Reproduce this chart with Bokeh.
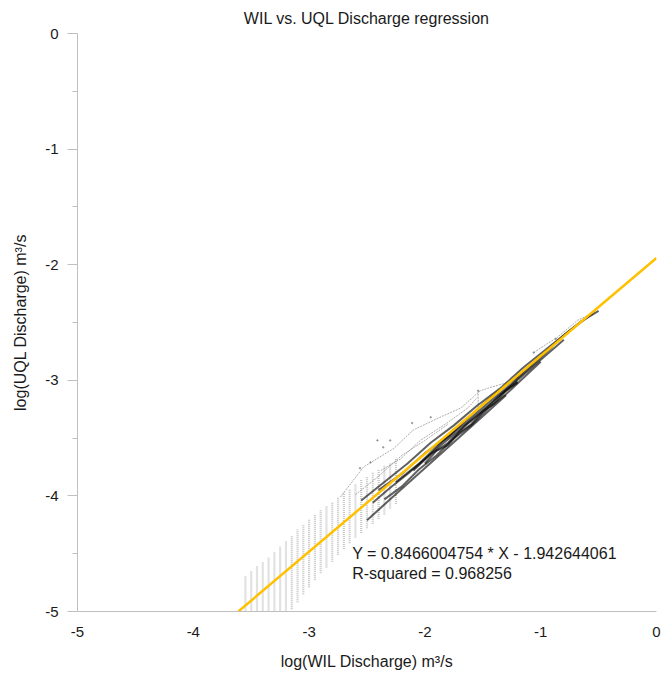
from bokeh.plotting import figure
from bokeh.models import Range1d, FixedTicker, Label
from bokeh.embed import file_html
from bokeh.resources import INLINE

# ---- regression result ----
slope = 0.8466004754
intercept = -1.942644061
r_squared = 0.968256

# ---- axes ----
x_ticks = [-5, -4, -3, -2, -1, 0]
x_tick_labels = ["-5", "-4", "-3", "-2", "-1", "0"]
y_ticks = [-5, -4, -3, -2, -1, 0]
y_tick_labels = ["-5", "-4", "-3", "-2", "-1", "0"]
y_minor_ticks = [-4.5, -3.5, -2.5, -1.5, -0.5]

# ---- low-flow (quantized) readings: columns of log(WIL) with UQL range ----
col_x = [-3.55, -3.50, -3.45, -3.40, -3.35, -3.30, -3.25, -3.20, -3.15, -3.10,
         -3.05, -3.00, -2.95, -2.90, -2.85, -2.80, -2.75, -2.70, -2.65, -2.60,
         -2.55, -2.50, -2.45, -2.40, -2.35, -2.30, -2.25]
col_y_high = [-4.69, -4.65, -4.61, -4.57, -4.53, -4.49, -4.44, -4.39, -4.34, -4.29,
              -4.25, -4.20, -4.16, -4.12, -4.09, -4.05, -4.01, -3.97, -3.94, -3.90,
              -3.86, -3.83, -3.80, -3.77, -3.74, -3.71, -3.67]
col_y_low = [-5.00, -5.00, -5.00, -5.00, -5.00, -5.00, -5.00, -5.00, -4.98, -4.92,
             -4.85, -4.79, -4.73, -4.67, -4.62, -4.57, -4.51, -4.46, -4.41, -4.36,
             -4.32, -4.28, -4.24, -4.20, -4.16, -4.11, -4.07]

# ---- dense (dark) traces of paired readings ----
s1_x = [-2.45, -2.3, -2.15, -2.0, -1.85, -1.7, -1.55, -1.4, -1.25, -1.1, -0.95, -0.8]
s1_y = [-4.06, -3.93, -3.81, -3.68, -3.55, -3.43, -3.30, -3.17, -3.04, -2.91, -2.78, -2.65]
s2_x = [-2.35, -2.2, -2.05, -1.9, -1.75, -1.6, -1.45, -1.3, -1.15, -1.0]
s2_y = [-4.03, -3.92, -3.77, -3.65, -3.50, -3.39, -3.24, -3.12, -2.98, -2.84]
s3_x = [-2.5, -2.3, -2.1, -1.9, -1.7, -1.5, -1.3]
s3_y = [-4.21, -4.03, -3.85, -3.67, -3.49, -3.31, -3.13]
s4_x = [-2.4, -2.2, -2.0, -1.8, -1.6, -1.4, -1.2, -1.0, -0.8, -0.65, -0.5]
s4_y = [-3.95, -3.81, -3.63, -3.49, -3.30, -3.12, -2.97, -2.79, -2.61, -2.49, -2.40]
s5_x = [-2.55, -2.35, -2.15, -1.95, -1.75, -1.55, -1.35, -1.15, -0.95, -0.75, -0.55]
s5_y = [-4.04, -3.88, -3.72, -3.54, -3.39, -3.22, -3.07, -2.89, -2.73, -2.57, -2.42]
s6_x = [-2.1, -1.95, -1.8, -1.65, -1.5, -1.35, -1.2]
s6_y = [-3.78, -3.64, -3.54, -3.39, -3.27, -3.13, -3.01]
s7_x = [-2.25, -2.05, -1.85, -1.65, -1.45, -1.25, -1.05, -0.9]
s7_y = [-3.88, -3.72, -3.53, -3.37, -3.19, -3.03, -2.85, -2.71]
s8_x = [-2.0, -1.9, -1.8, -1.7, -1.6, -1.5, -1.4, -1.3, -1.2]
s8_y = [-3.72, -3.61, -3.56, -3.45, -3.38, -3.27, -3.20, -3.09, -3.02]

# ---- sparser (grey) traces above the fit ----
ua_x = [-2.73, -2.53, -2.27, -2.10, -1.87, -1.69, -1.52, -1.43, -1.29]
ua_y = [-4.01, -3.75, -3.59, -3.43, -3.32, -3.24, -3.09, -3.06, -3.02]
ub_x = [-2.38, -2.21, -2.04, -1.81, -1.63, -1.55]
ub_y = [-3.78, -3.68, -3.52, -3.37, -3.24, -3.15]
uc_x = [-1.54, -1.54]
uc_y = [-3.09, -3.26]
ud_x = [-1.06, -0.94, -0.87, -0.68, -0.53]
ud_y = [-2.76, -2.68, -2.64, -2.48, -2.41]
ue_x = [-2.6, -2.4, -2.2, -2.0, -1.8]
ue_y = [-3.99, -3.83, -3.65, -3.52, -3.38]

# isolated readings
dot_x = [-2.41, -2.30, -2.36, -2.11, -1.95, -2.56, -2.47, -1.06, -0.87, -1.54]
dot_y = [-3.52, -3.52, -3.58, -3.37, -3.32, -3.76, -3.71, -2.76, -2.64, -3.09]

FONT = "Liberation Sans"
TXT = "#1a1a1a"
AX = "#bfbfbf"

p = figure(width=661, height=676, output_backend="svg", toolbar_location=None,
           x_range=Range1d(-5, 0), y_range=Range1d(-5, 0),
           min_border_left=77, min_border_right=5, min_border_top=33,
           min_border_bottom=65)
p.title.text = "WIL vs. UQL Discharge regression"
p.title.align = "center"
p.title.vertical_align = "top"
p.title.text_font = FONT
p.title.text_font_size = "16px"
p.title.text_font_style = "normal"
p.title.text_color = TXT
p.title.standoff = 10
p.xgrid.visible = False
p.ygrid.visible = False
p.outline_line_color = None
p.background_fill_color = "white"
p.border_fill_color = "white"

# x axis
p.xaxis.ticker = FixedTicker(ticks=x_ticks)
p.xaxis.major_label_overrides = {t: l for t, l in zip(x_ticks, x_tick_labels)}
p.xaxis.major_tick_out = 0
p.xaxis.major_tick_in = 0
p.xaxis.minor_tick_out = 0
p.xaxis.minor_tick_in = 0
p.xaxis.major_label_standoff = 15
p.xaxis.axis_label = "log(WIL Discharge) m\u00b3/s"
p.xaxis.axis_label_standoff = 13

# y axis
p.yaxis.ticker = FixedTicker(ticks=y_ticks, minor_ticks=y_minor_ticks)
p.yaxis.major_label_overrides = {t: l for t, l in zip(y_ticks, y_tick_labels)}
p.yaxis.major_tick_out = 10
p.yaxis.major_tick_in = 0
p.yaxis.minor_tick_out = 5
p.yaxis.minor_tick_in = 0
p.yaxis.major_label_standoff = 9
p.yaxis.axis_label = "log(UQL Discharge) m\u00b3/s"
p.yaxis.axis_label_standoff = 13

for ax in (p.xaxis[0], p.yaxis[0]):
    ax.axis_line_color = AX
    ax.major_tick_line_color = AX
    ax.minor_tick_line_color = AX
    ax.major_label_text_font = FONT
    ax.major_label_text_font_size = "15px"
    ax.major_label_text_color = TXT
    ax.axis_label_text_font = FONT
    ax.axis_label_text_font_size = "16px"
    ax.axis_label_text_font_style = "normal"
    ax.axis_label_text_color = TXT

# low-flow quantized columns
p.segment(x0=col_x, y0=col_y_low, x1=col_x, y1=col_y_high,
          line_color="#c6c6c6", line_width=2.2, line_dash="1 1")

# grey upper traces
p.multi_line(xs=[ua_x, ub_x, uc_x, ud_x, ue_x], ys=[ua_y, ub_y, uc_y, ud_y, ue_y],
             line_color="#8a8a8a", line_width=1.0, line_alpha=0.7, line_dash="2 1")

# dense dark traces
p.multi_line(xs=[s1_x, s2_x, s3_x, s4_x, s5_x, s6_x, s7_x, s8_x],
             ys=[s1_y, s2_y, s3_y, s4_y, s5_y, s6_y, s7_y, s8_y],
             line_color="black", line_width=2.0, line_alpha=0.62)

p.scatter(dot_x, dot_y, size=1.5, color="#777777", alpha=0.6)

# regression line
fit_x = [(-5 - intercept) / slope, 0]
fit_y = [slope * v + intercept for v in fit_x]
p.line(fit_x, fit_y, line_color="#FFC000", line_width=2.5)

# equation text
p.add_layout(Label(x=-2.628, y=-4.501, text=f"Y = {slope} * X - {-intercept}",
                   text_font=FONT, text_font_size="16px", text_color=TXT,
                   text_baseline="alphabetic"))
p.add_layout(Label(x=-2.628, y=-4.674, text=f"R-squared = {r_squared}",
                   text_font=FONT, text_font_size="16px", text_color=TXT,
                   text_baseline="alphabetic"))

open("out.html", "w").write(file_html(p, INLINE))
